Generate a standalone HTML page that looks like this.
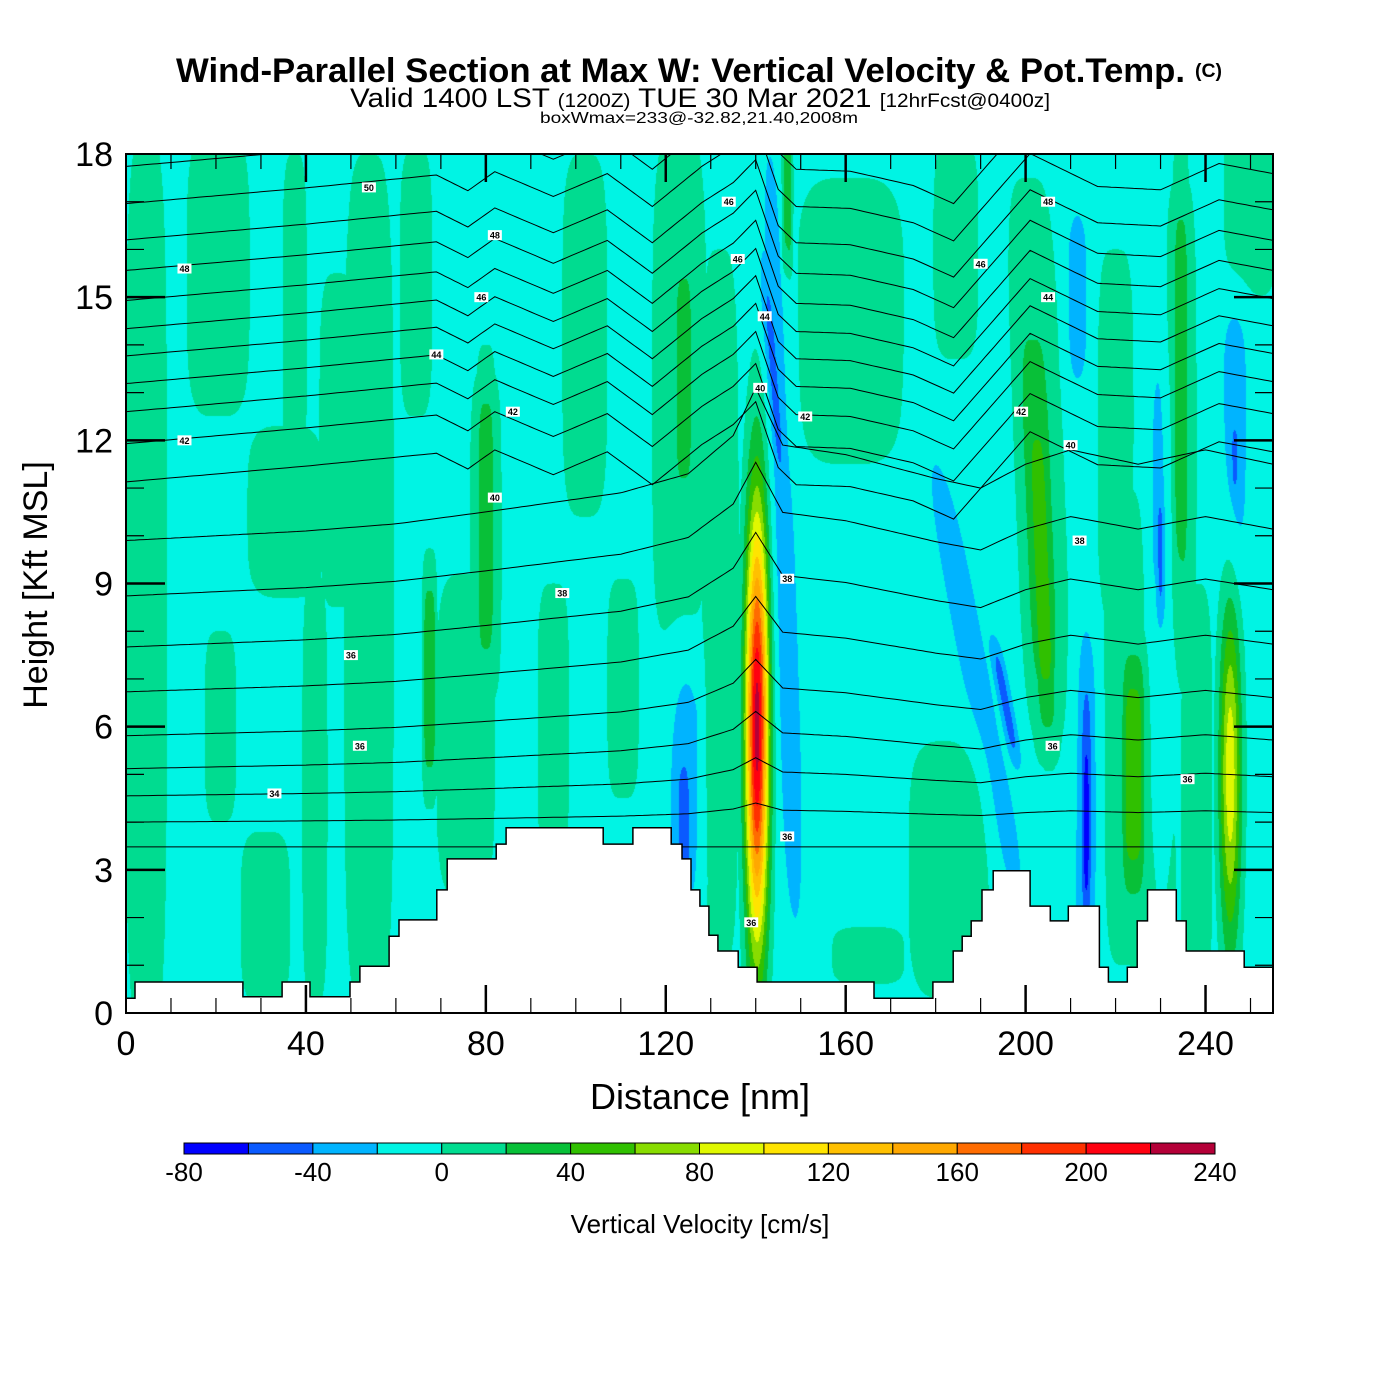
<!DOCTYPE html>
<html><head><meta charset="utf-8"><style>
html,body{margin:0;padding:0;background:#fff;}
#wrap{position:relative;width:1400px;height:1400px;overflow:hidden;background:#fff;}
#field{position:absolute;left:126px;top:154px;}
#ov{position:absolute;left:0;top:0;}
text{font-family:"Liberation Sans",sans-serif;}
</style></head><body>
<div id="wrap">
<canvas id="field" width="1147" height="859"></canvas>
<svg id="ov" width="1400" height="1400" xmlns="http://www.w3.org/2000/svg">
<defs><clipPath id="pc"><rect x="126" y="154" width="1147" height="859"/></clipPath></defs>
<text x="176" y="82" font-size="34" font-weight="bold" textLength="1009" lengthAdjust="spacingAndGlyphs">Wind-Parallel Section at Max W: Vertical Velocity &amp; Pot.Temp.</text>
<text x="1195" y="77" font-size="19" font-weight="bold" textLength="27" lengthAdjust="spacingAndGlyphs">(C)</text>
<text x="350" y="107" font-size="27" textLength="700" lengthAdjust="spacingAndGlyphs">Valid 1400 LST <tspan font-size="19">(1200Z)</tspan> TUE 30 Mar 2021 <tspan font-size="19">[12hrFcst@0400z]</tspan></text>
<text x="540" y="123" font-size="16" textLength="318" lengthAdjust="spacingAndGlyphs">boxWmax=233@-32.82,21.40,2008m</text>
<g id="contours" clip-path="url(#pc)"></g>
<g id="terrain"></g>
<g id="clabels"></g>
<rect x="126" y="154" width="1147" height="859" fill="none" stroke="#000" stroke-width="2"/>
<g id="ticks"></g>
<g id="xlabels"></g>
<g id="ylabels"></g>
<text x="700" y="1109" font-size="36" text-anchor="middle">Distance [nm]</text>
<text x="0" y="0" font-size="34" text-anchor="middle" transform="translate(47,585) rotate(-90)">Height [Kft MSL]</text>
<g id="cbar"></g>
<text x="700" y="1233" font-size="26" text-anchor="middle">Vertical Velocity [cm/s]</text>
</svg>
</div>
<script>
// ---- data ----
const colorLevels = [-80,-60,-40,-20,0,20,40,60,80,100,120,140,160,180,200,220,240];
const levelColors = ['#0000ff','#0a5aff','#00b4ff','#00f4e4','#00dc90','#08c038','#30c000','#88dc00','#e0f800','#ffe400','#ffc000','#ffa800','#ff6c00','#ff3000','#ff0010','#b40038'];
const cbarTickLabels = [-80,-40,0,40,80,120,160,200,240];
const xTickLabels = [0,40,80,120,160,200,240];
const yTickLabels = [0,3,6,9,12,15,18];
const wBackground = -10;
// vertical-velocity features: distance nm, height kft, half-width nm, half-height kft, tilt nm/kft, peak cm/s, exponents
const wFeatDist  = [4.5,20.5,21,31,35.5,42,54,37.5,64.5,67.5,75.5,80,80,95,102,110.5,123,124,132,140.3,147,161,184.5,203,203,203.5,222,224,220,234.5,234.5,238,183,165,250,245.5,124.5,124,146,144,189,195.5,211.5,230,230,213.5,213.5,213.5,246.5,246.5,47,228];
const wFeatHt    = [9,15.5,6,2,10.5,4.7,9,14.5,15.3,7,5.8,10,10.2,6,14.2,6.8,13,13.3,8.5,6,17,14.5,16,11.5,10.5,9.5,6,5,12,12,13,4.5,3,1.2,17,5,5,4,10,13.3,7,6.5,15,8,9.5,4.5,4.3,4,12,11.6,12,4.5];
const wFeatWid   = [4.6,7,3.5,5.5,8.5,2.8,5.5,2.7,3.6,1.5,6.5,3.5,2,3.5,5,3.5,6,2,4.2,2.1,1.2,12,5,5.5,3.5,2,5,2.5,4,3.5,1.8,3.5,9,8,6,2,3.5,1.8,2.5,1.3,3,1.2,2,2.2,1,2.5,1.6,1,2.5,1,4,6];
const wFeatHgt   = [9.4,3,2,1.8,1.8,4.5,9,3.5,2.8,2.3,3.4,3.5,3.2,3,3.8,2.3,5.5,2.6,7.5,3.8,1.5,3,2.3,6,4.5,3.5,5,2.5,4,5.5,4.5,4.5,2.7,0.6,2,3,2.7,1.5,8,2.3,4.5,1.2,1.7,5.5,1.5,3.5,3,2,3,0.8,3.5,4];
const wFeatTilt  = [0,0,0,0,0,0,0,0,0,0,0,0,0,0,0,0,0,0,0,0,0,0,0,-0.4,-0.4,-0.4,0,0,0,0,0,0,0,0,0,0,0,0,-0.35,-0.8,-2,-2,0,0,0,0,0,0,0,0,0,0];
const wFeatPeak  = [20,20,20,20,20,20,20,20,20,40,20,20,40,20,20,20,20,40,20,240,40,20,20,20,40,60,20,60,20,20,40,20,20,20,20,105,-20,-40,-20,-40,-20,-40,-20,-20,-40,-20,-40,-60,-20,-40,20,20];
const wFeatExpZ  = [4,4,4,4,4,4,4,4,4,4,4,4,4,4,4,4,4,4,4,2,4,4,4,4,4,4,4,4,4,4,4,4,4,4,4,2,4,4,4,4,4,4,4,4,4,4,4,4,4,4,4,4];
const wFeatExpX  = [4,4,4,4,4,4,4,4,4,4,4,4,4,4,4,4,4,4,4,2,4,4,4,4,4,4,4,4,4,4,4,4,4,4,4,2,2,2,2,2,2,2,2,2,2,2,2,2,2,2,4,4];
// terrain steps
const terrainDist = [0,2.0,26.0,34.7,40.9,49.8,52.0,58.5,60.7,69.1,71.4,82.3,84.5,106.1,112.7,121.2,123.6,125.6,127.6,129.6,131.6,136.1,140.3,166.3,179.4,183.9,185.9,187.9,190.3,192.8,201.0,205.5,209.5,216.4,218.4,222.6,224.8,227.1,233.5,235.7,248.6];
const terrainHt   = [0.31,0.65,0.34,0.65,0.34,0.65,0.98,1.61,1.95,2.58,3.23,3.54,3.88,3.54,3.88,3.54,3.23,2.58,2.24,1.63,1.3,0.96,0.65,0.31,0.65,1.3,1.61,1.93,2.58,2.98,2.24,1.93,2.24,0.96,0.65,0.96,1.93,2.58,1.93,1.3,0.96];
// potential temperature isentropes
const thetaLevels = [32,33,34,35,36,37,38,39,40,41,42,43,44,45,46,47,48,49,50,51];
const thetaBaseHt = [3.48,4.0,4.55,5.12,5.81,6.73,7.67,8.74,9.9,11.13,11.93,12.6,13.19,13.77,14.34,14.93,15.56,16.2,16.96,17.74];
const upperDist = [0,40,69,76,82,95,107,117,128,135,140,145,149,161,175,184,201,216,230,243,255];
const upperDisp = [0,0.33,0.6,0.27,0.67,0.15,0.63,-0.06,0.78,1.2,1.68,0.3,-0.06,-0.1,-0.4,-0.78,1.05,0.36,0.29,0.84,0.63];
const lowerDist = [0,20,40,60,80,95,110,125,135,140,146,160,180,190,200,210,225,240,255];
const lowerDisp = [0,0.1,0.2,0.35,0.6,0.8,1.0,1.4,2.2,3.2,2.0,1.8,1.3,1.1,1.6,1.9,1.6,1.9,1.6];
const labelText = [50,48,48,46,44,42,42,40,38,36,36,34,46,46,44,40,42,38,36,36,46,48,44,42,40,38,36,36];
const labelDist = [54,13,82,79,69,86,13,82,97,50,52,33,134,136,142,141,151,147,147,139,190,205,205,199,210,212,206,236];
const labelHt   = [17.3,15.6,16.3,15.0,13.8,12.6,12.0,10.8,8.8,7.5,5.6,4.6,17.0,15.8,14.6,13.1,12.5,9.1,3.7,1.9,15.7,17.0,15.0,12.6,11.9,9.9,5.6,4.9];

// ---- scales ----
const X0=126,X1=1273,Y0=1013,Y1=154,DMAX=255,ZMAX=18;
const xs = d => X0 + d/DMAX*(X1-X0);
const ys = z => Y0 - z/ZMAX*(Y0-Y1);
const NS='http://www.w3.org/2000/svg';
function mk(tag, attrs, parent){const e=document.createElementNS(NS,tag);for(const k in attrs)e.setAttribute(k,attrs[k]);parent.appendChild(e);return e;}
function interp(xa,ya,x){if(x<=xa[0])return ya[0];for(let i=1;i<xa.length;i++){if(x<=xa[i]){const t=(x-xa[i-1])/(xa[i]-xa[i-1]);return ya[i-1]+t*(ya[i]-ya[i-1]);}}return ya[ya.length-1];}

// ---- field ----
(function(){
  const cv=document.getElementById('field');const ctx=cv.getContext('2d');
  const W=cv.width,H=cv.height;const img=ctx.createImageData(W,H);const dt=img.data;
  const rgb=levelColors.map(c=>[parseInt(c.substr(1,2),16),parseInt(c.substr(3,2),16),parseInt(c.substr(5,2),16)]);
  const n=wFeatDist.length;
  for(let py=0;py<H;py++){
    const z=(H-py-0.5)/H*ZMAX;
    for(let px=0;px<W;px++){
      const d=(px+0.5)/W*DMAX;
      let mx=0,mn=0;
      for(let i=0;i<n;i++){
        const dz=(z-wFeatHt[i])/wFeatHgt[i];
        if(dz>3||dz<-3)continue;
        const cx=wFeatDist[i]+wFeatTilt[i]*(z-wFeatHt[i]);
        const dx=(d-cx)/wFeatWid[i];
        if(dx>3.5||dx<-3.5)continue;
        const r2=Math.pow(Math.abs(dx),wFeatExpX[i])+Math.pow(Math.abs(dz),wFeatExpZ[i]);
        const c=wFeatPeak[i]*Math.exp(-0.6931*r2);
        if(c>mx)mx=c;if(c<mn)mn=c;
      }
      const v=wBackground+mx+mn;
      let k=Math.floor((v-colorLevels[0])/20);if(k<0)k=0;if(k>15)k=15;
      const o=(py*W+px)*4;dt[o]=rgb[k][0];dt[o+1]=rgb[k][1];dt[o+2]=rgb[k][2];dt[o+3]=255;
    }
  }
  ctx.putImageData(img,0,0);
})();

// ---- contours ----
(function(){
  const g=document.getElementById('contours');
  thetaLevels.forEach((lv,k)=>{
    const pts=[];
    for(let d=0;d<=DMAX;d+=1){
      let z=thetaBaseHt[k];
      if(lv>=41) z+=interp(upperDist,upperDisp,d);
      else z+=(lv-32)/8*interp(lowerDist,lowerDisp,d);
      pts.push(xs(d).toFixed(1)+','+ys(z).toFixed(1));
    }
    const p=mk('polyline',{points:pts.join(' '),fill:'none',stroke:'#000','stroke-width':'1'},g);
    
    
  });
})();

// ---- terrain ----
(function(){
  const g=document.getElementById('terrain');
  const pts=[xs(0)+','+ys(0)];
  for(let i=0;i<terrainDist.length;i++){
    const d0=terrainDist[i],d1=(i+1<terrainDist.length)?terrainDist[i+1]:DMAX;
    pts.push(xs(d0).toFixed(1)+','+ys(terrainHt[i]).toFixed(1));
    pts.push(xs(d1).toFixed(1)+','+ys(terrainHt[i]).toFixed(1));
  }
  pts.push(xs(DMAX)+','+ys(0));
  const p=mk('polygon',{points:pts.join(' '),fill:'#fff',stroke:'#000','stroke-width':'1.5'},g);
  
  
})();

// ---- contour labels ----
(function(){
  const g=document.getElementById('clabels');
  labelText.forEach((t,i)=>{
    const x=xs(labelDist[i]),y=ys(labelHt[i]);
    const r=mk('rect',{x:x-7,y:y-5,width:14,height:10,fill:'#fff'},g);
    
    
    const tx=mk('text',{x:x,y:y+3.5,'font-size':'9','font-weight':'bold','text-anchor':'middle'},g);
    
    
    tx.textContent=t;
  });
})();

// ---- ticks & labels ----
(function(){
  const g=document.getElementById('ticks');
  for(let d=0;d<=DMAX;d+=10){
    const maj=(d%40===0),L=maj?28:15,x=xs(d);
    if(d===0)continue;
    const a=mk('line',{x1:x,y1:Y1,x2:x,y2:Y1+L,stroke:'#000','stroke-width':maj?2.5:1.2},g);
    
    
    const b=mk('line',{x1:x,y1:Y0,x2:x,y2:Y0-L,stroke:'#000','stroke-width':maj?2.5:1.2},g);
    
    
  }
  for(let z=1;z<ZMAX;z+=1){
    const maj=(z%3===0),L=maj?39:18,y=ys(z);
    const a=mk('line',{x1:X0,y1:y,x2:X0+L,y2:y,stroke:'#000','stroke-width':maj?2.5:1.2},g);
    
    
    const b=mk('line',{x1:X1,y1:y,x2:X1-L,y2:y,stroke:'#000','stroke-width':maj?2.5:1.2},g);
    
    
  }
  const gx=document.getElementById('xlabels');
  xTickLabels.forEach(v=>{
    const t=mk('text',{x:xs(v),y:1055,'font-size':'34','text-anchor':'middle'},gx);
    
    
    t.textContent=v;
  });
  const gy=document.getElementById('ylabels');
  yTickLabels.forEach(v=>{
    const t=mk('text',{x:113,y:ys(v)+12,'font-size':'34','text-anchor':'end'},gy);
    
    
    t.textContent=v;
  });
  const gc=document.getElementById('cbar');
  const cx0=184,cx1=1215,cw=(cx1-cx0)/levelColors.length;
  levelColors.forEach((c,i)=>{
    const r=mk('rect',{x:cx0+i*cw,y:1143,width:cw,height:11,fill:c,stroke:'#000','stroke-width':'1'},gc);
    
    
  });
  cbarTickLabels.forEach(v=>{
    const x=cx0+(v-colorLevels[0])/20*cw;
    const t=mk('text',{x:x,y:1181,'font-size':'26','text-anchor':'middle'},gc);
    
    
    t.textContent=v;
  });
})();
</script>
</body></html>
